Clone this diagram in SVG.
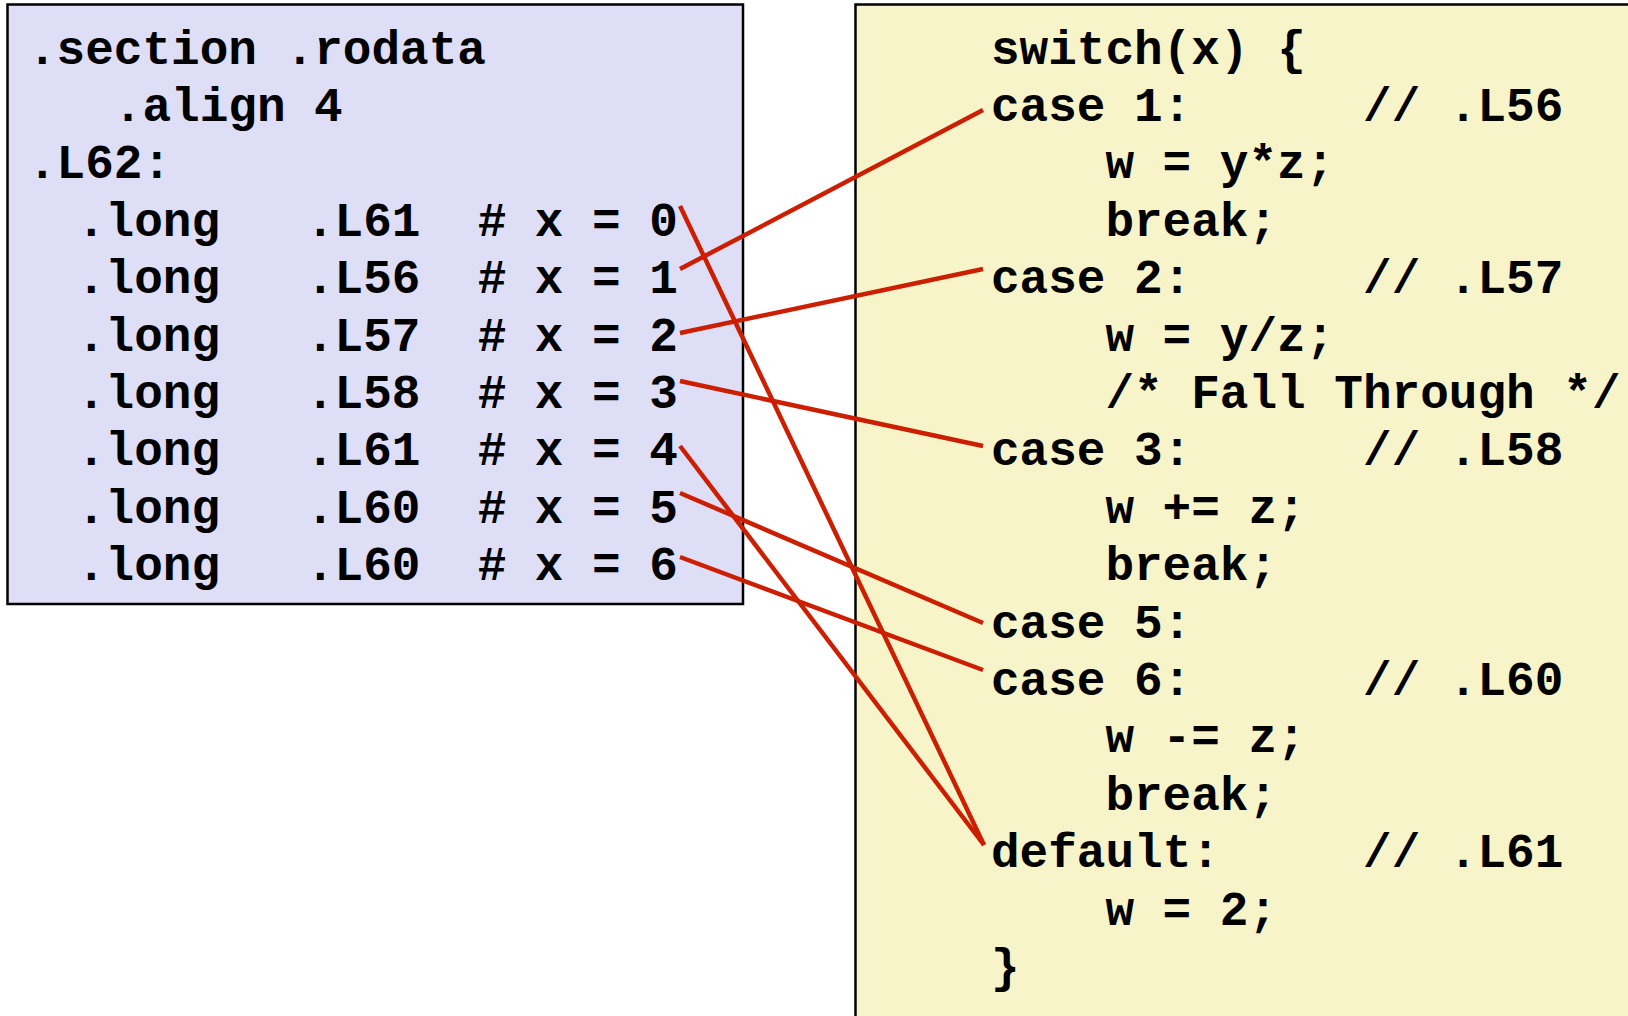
<svg xmlns="http://www.w3.org/2000/svg" width="1628" height="1016" viewBox="0 0 1628 1016">
  <style>
    .code { font-family: "Liberation Mono", "Courier New", monospace; font-weight: 700; font-size: 47.7px; fill: #000; white-space: pre; }
    .box { stroke: #000; stroke-width: 2.5; }
    .link { stroke: #CC1E00; stroke-width: 4.5; fill: none; stroke-linecap: butt; }
  </style>
  <rect width="1628" height="1016" fill="#FFFFFF"/>

  <!-- jump table in the read-only data section -->
  <g id="jump-table">
    <rect class="box" x="7.5" y="4.5" width="735.5" height="599.5" fill="#DEDEF6"/>
    <text class="code" x="28" y="63.5">.section .rodata</text>
    <text class="code" x="113.8" y="120.9">.align 4</text>
    <text class="code" x="28" y="178.3">.L62:</text>
    <text class="code" x="77" y="235.7">.long   .L61  # x = 0</text>
    <text class="code" x="77" y="293.1">.long   .L56  # x = 1</text>
    <text class="code" x="77" y="350.5">.long   .L57  # x = 2</text>
    <text class="code" x="77" y="407.9">.long   .L58  # x = 3</text>
    <text class="code" x="77" y="465.3">.long   .L61  # x = 4</text>
    <text class="code" x="77" y="522.7">.long   .L60  # x = 5</text>
    <text class="code" x="77" y="580.1">.long   .L60  # x = 6</text>
  </g>

  <!-- C switch statement with target labels -->
  <g id="switch-source">
    <rect class="box" x="855.5" y="4.5" width="790" height="1030" fill="#F8F4C9"/>
    <text class="code" x="991" y="63.5">switch(x) {</text>
    <text class="code" x="991" y="120.9">case 1:      // .L56</text>
    <text class="code" x="1105.4" y="178.3">w = y*z;</text>
    <text class="code" x="1105.4" y="235.7">break;</text>
    <text class="code" x="991" y="293.1">case 2:      // .L57</text>
    <text class="code" x="1105.4" y="350.5">w = y/z;</text>
    <text class="code" x="1105.4" y="407.9">/* Fall Through */</text>
    <text class="code" x="991" y="465.3">case 3:      // .L58</text>
    <text class="code" x="1105.4" y="522.7">w += z;</text>
    <text class="code" x="1105.4" y="580.1">break;</text>
    <text class="code" x="991" y="637.5">case 5:</text>
    <text class="code" x="991" y="694.9">case 6:      // .L60</text>
    <text class="code" x="1105.4" y="752.3">w -= z;</text>
    <text class="code" x="1105.4" y="809.7">break;</text>
    <text class="code" x="991" y="867.1">default:     // .L61</text>
    <text class="code" x="1105.4" y="924.5">w = 2;</text>
    <text class="code" x="991" y="981.9">}</text>
  </g>

  <!-- table entries linked to their case labels -->
  <g id="connectors">
    <line class="link" x1="680" y1="206" x2="984" y2="845"/>
    <line class="link" x1="680" y1="269" x2="983" y2="110"/>
    <line class="link" x1="680" y1="333" x2="983" y2="269"/>
    <line class="link" x1="680" y1="381" x2="983" y2="446"/>
    <line class="link" x1="680" y1="446" x2="984" y2="845"/>
    <line class="link" x1="680" y1="493" x2="983" y2="623"/>
    <line class="link" x1="680" y1="557" x2="983" y2="670"/>
  </g>
</svg>
